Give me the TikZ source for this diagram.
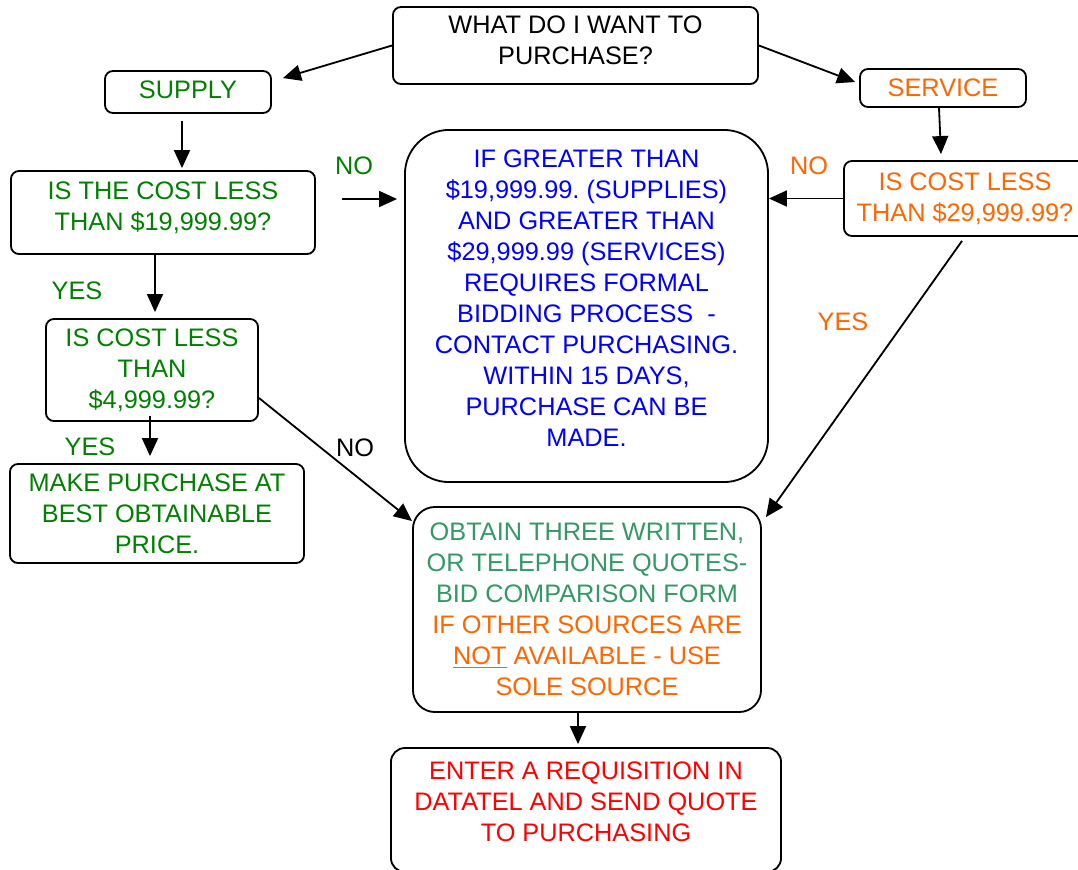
\documentclass[tikz,border=0pt]{standalone}
\usepackage{fontspec}
\setmainfont{Liberation Sans}
\frenchspacing
\usetikzlibrary{arrows.meta,calc}
\definecolor{pgreen}{RGB}{0,128,0}
\definecolor{pteal}{RGB}{51,153,102}
\definecolor{porange}{RGB}{255,102,0}
\definecolor{pblue}{RGB}{0,0,255}
\definecolor{pred}{RGB}{255,0,0}
\tikzset{
  box/.style={draw,line width=1.3pt,rounded corners=0.2cm,inner sep=0pt,align=center},
  lbl/.style={inner sep=0pt},
  arr/.style={line width=1.3pt,-{Triangle[length=0.45cm,width=0.4cm]}}
}

\begin{document}
\begin{tikzpicture}[x=0.025cm,y=-0.025cm,font=\fontsize{18}{22}\selectfont]
\useasboundingbox (0,0) rectangle (1078,869);
\node[box,minimum width=9.125cm,minimum height=1.925cm,text depth=7pt] (top) at (575.5,45.5) {WHAT DO I WANT TO\\PURCHASE?};
\node[box,minimum width=4.15cm,minimum height=1.05cm,text depth=4pt,text=pgreen] (supply) at (188,92) {SUPPLY};
\node[box,minimum width=4.15cm,minimum height=0.95cm,text=porange] (service) at (943,88) {SERVICE};
\node[box,minimum width=7.6cm,minimum height=2.075cm,text depth=9.5pt,text=pgreen] (cost19) at (163,212.5) {IS THE COST LESS\\THAN \$19,999.99?};
\node[box,minimum width=9.075cm,minimum height=8.8cm,rounded corners=1.1cm,text depth=11.4pt,text=pblue] (bid) at (586.5,306)
  {IF GREATER THAN\\\$19,999.99. (SUPPLIES)\\AND GREATER THAN\\\$29,999.99 (SERVICES)\\REQUIRES FORMAL\\BIDDING PROCESS~~-\\CONTACT PURCHASING.\\WITHIN 15 DAYS,\\PURCHASE CAN BE\\MADE.};
\node[box,minimum width=6.05cm,minimum height=1.875cm,text=porange] (cost29) at (965,198.5) {IS COST LESS\\THAN \$29,999.99?};
\node[box,minimum width=5.3cm,minimum height=2.55cm,text=pgreen] (cost4) at (152,370) {IS COST LESS\\THAN\\\$4,999.99?};
\node[box,minimum width=7.35cm,minimum height=2.475cm,text=pgreen] (make) at (157,513.5) {MAKE PURCHASE AT\\BEST OBTAINABLE\\PRICE.};
\node[box,minimum width=8.7cm,minimum height=5.125cm,rounded corners=0.55cm] (obtain) at (587,609.5)
  {\color{pteal}OBTAIN THREE WRITTEN,\\\color{pteal}OR TELEPHONE QUOTES-\\\color{pteal}BID COMPARISON FORM\\\color{porange}IF OTHER SOURCES ARE\\\color{porange}\underline{NOT} AVAILABLE - USE\\\color{porange}SOLE SOURCE};
\node[box,minimum width=9.75cm,minimum height=3.1cm,rounded corners=0.35cm,text depth=11.4pt,text=pred] (enter) at (586,810) {ENTER A REQUISITION IN\\DATATEL AND SEND QUOTE\\TO PURCHASING};
\node[lbl,text=pgreen] (noA) at (354,166) {NO};
\node[lbl,text=pgreen] (yesA) at (77,291) {YES};
\node[lbl,text=pgreen] (yesB) at (90,447) {YES};
\node[lbl] (noB) at (355,448) {NO};
\node[lbl,text=porange] (noC) at (809,166) {NO};
\node[lbl,text=porange] (yesC) at (843,322) {YES};
\draw[arr] (top.west) -- ($(supply.north east)+(11,8)$);
\draw[arr] (top.east) -- ($(service.west)+(-4,-6)$);
\draw[arr] ($(supply.south)+(-6,7)$) -- ($(cost19.north)+(19,-2)$);
\draw[arr] ($(cost19.east)+(26,-13.5)$) -- ($(bid.west |- noA)+(-7,33)$);
\draw[arr] ($(cost19.south)+(-8,0)$) -- ($(cost4.north)+(3,-6)$);
\draw[arr] ($(cost4.south)+(-2,-6)$) -- ($(make.north)+(-7,-7)$);
\draw[arr] ($(cost4.east)+(0,28)$) -- ($(obtain.north west)+(0,15)$);
\draw[arr] ($(service.south)+(-4,0)$) -- ($(cost29.north)+(-24,-6)$);
\draw[arr] (cost29.west) -- (bid.east |- cost29.west);
\draw[arr] ($(cost29.south)+(-3,4)$) -- ($(obtain.north east)+(4,11)$);
\draw[arr] ($(obtain.south)+(-9,0)$) -- ($(enter.north)+(-8,-3)$);
\end{tikzpicture}
\end{document}
